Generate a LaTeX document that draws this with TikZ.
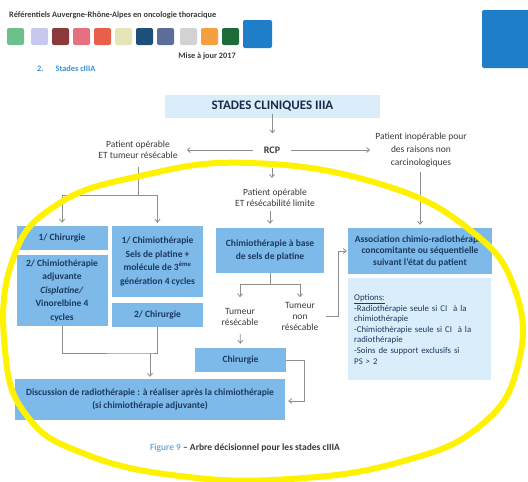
\documentclass[tikz,border=0pt]{standalone}
\usepackage{fontspec}
\setmainfont{Carlito}
\usetikzlibrary{arrows.meta,calc}
\tikzset {>={Straight Barb[length=3pt,width=5pt]}}

\definecolor{boxblue}{HTML}{7DBAE9}
\definecolor{optblue}{HTML}{D9EEFA}
\definecolor{titleblue}{HTML}{DCEDFA}
\definecolor{boxtext}{HTML}{1B3A5E}
\definecolor{textdark}{HTML}{3A3A3A}
\definecolor{linegray}{HTML}{8E8E8E}
\definecolor{capblue}{HTML}{3D8FD1}
\definecolor{marker}{HTML}{FFF200}
\definecolor{swA}{HTML}{6CC08B}
\definecolor{swB}{HTML}{C8C8EE}
\definecolor{swC}{HTML}{8B3A3A}
\definecolor{swD}{HTML}{E5707F}
\definecolor{swE}{HTML}{E8604A}
\definecolor{swF}{HTML}{E6E5B8}
\definecolor{swG}{HTML}{1C4F7A}
\definecolor{swH}{HTML}{5A6E98}
\definecolor{swI}{HTML}{D0D2D4}
\definecolor{swJ}{HTML}{F4A040}
\definecolor{swK}{HTML}{1E6B3A}
\definecolor{swL}{HTML}{1E7FC8}

\tikzset{
  box/.style={fill=boxblue,text=boxtext,font=\bfseries\fontsize{9.5}{13.5}\selectfont,
    align=center,inner sep=0pt},
  optbox/.style={fill=optblue,text=boxtext,font=\fontsize{8.8}{10.6}\selectfont,
    align=left,inner xsep=6pt,inner ysep=0pt,text width=131pt},
  plain/.style={text=textdark,font=\fontsize{9.5}{11}\selectfont,align=center,inner sep=1pt},
  link/.style={draw=linegray,line width=0.8pt},
  arr/.style={link,->},
  swatch/.style={rounded corners=2pt}
}

\begin{document}
\begin{tikzpicture}[x=1pt,y=-1pt]
\useasboundingbox (0,0) rectangle (528,482);

% Page header
\node[anchor=west,inner sep=0,text=textdark,font=\bfseries\fontsize{8.3}{9}\selectfont] (header) at (9,15)
  {Référentiels Auvergne-Rhône-Alpes en oncologie thoracique};
\foreach \x/\c in {7/swA,31/swB,52/swC,73/swD,94/swE,115/swF,136/swG,157/swH,180/swI,201/swJ,222/swK}
  \fill[\c,swatch] (\x,28) rectangle +(17,17);
\fill[swL,swatch] (243,20) rectangle (272,48);
\fill[swL,swatch] (482,10) rectangle (532,68);
\node[anchor=east,inner sep=0,text=textdark,font=\bfseries\fontsize{8.3}{9}\selectfont] (update) at (236,56)
  {Mise à jour 2017};
\node[anchor=west,inner sep=0,text=capblue,font=\bfseries\fontsize{8.3}{9}\selectfont] (section) at (37,69)
  {2.\hspace{12pt}Stades cIIIA};

% Title and first split
\fill[titleblue] (165,95) rectangle (380,118);
\node[inner sep=0,text=boxtext!80!black,font=\bfseries\fontsize{13}{14}\selectfont] (title) at (272.5,106.5)
  {STADES CLINIQUES IIIA};
\node[plain,font=\bfseries\fontsize{10}{11}\selectfont] (rcp) at (272,150) {RCP};
\node[plain] (operable) at (138,149.5) {Patient opérable\\ET tumeur résécable};
\node[plain,font=\fontsize{9.5}{13}\selectfont] (inoperable) at (421,150)
  {Patient inopérable pour\\des raisons non\\carcinologiques};
\node[plain] (limite) at (275,198) {Patient opérable\\ET résécabilité limite};

\draw[arr,shorten <=2pt,shorten >=12pt] (title.south) -- (title.south |- rcp.north);
\draw[arr,shorten <=10pt,shorten >=8pt] (rcp.west) -- (rcp.west -| operable.east);
\draw[arr,shorten <=10pt,shorten >=4pt] (rcp.east) -- (rcp.east -| inoperable.west);
\draw[arr,shorten <=13pt,shorten >=10pt] (rcp.south) -- (rcp.south |- limite.north);

% Left branch: operable patient
\node[box,minimum width=91pt,minimum height=24pt] (chirA) at (62,238) {1/ Chirurgie};
\node[box,minimum width=91pt,minimum height=71pt] (chimioAdj) at (62,290.5)
  {2/ Chimiothérapie\\adjuvante\\\textit{Cisplatine/}\\Vinorelbine 4\\cycles};
\node[box,minimum width=91pt,minimum height=71pt] (chimioA) at (157.5,261.5)
  {1/ Chimiothérapie\\Sels de platine +\\molécule de 3\textsuperscript{ème}\\génération 4 cycles};
\node[box,minimum width=91pt,minimum height=24pt] (chirB) at (157.5,315) {2/ Chirurgie};
\node[box,minimum width=270pt,minimum height=41pt] (discussion) at (150,399.5)
  {Discussion de radiothérapie : à réaliser après la chimiothérapie\\(si chimiothérapie adjuvante)};

\coordinate (splitA) at (138,195);
\draw[link,shorten <=7pt] (operable.south) -- (splitA);
\draw[arr,shorten >=3pt] (splitA) -| (chirA.north);
\draw[arr,shorten >=3pt] (splitA) -| (chimioA.north);
\coordinate (joinA) at (150,353);
\draw[link] (chimioAdj.south) |- (joinA) -| (chirB.south);
\draw[arr,shorten >=2pt] (joinA) -- (joinA |- discussion.north);

% Middle branch: limited resectability
\node[box,minimum width=108pt,minimum height=45pt] (platine) at (270,250.5)
  {Chimiothérapie à base\\de sels de platine};
\node[plain] (resecable) at (240,317) {Tumeur\\résécable};
\node[plain] (nonresecable) at (300,316.5) {Tumeur\\non\\résécable};
\node[box,minimum width=91pt,minimum height=24pt] (chirC) at (240.5,360) {Chirurgie};

\draw[arr,shorten <=3pt,shorten >=4pt] (limite.south -| platine.north) -- (platine.north);
\coordinate (splitB) at (270,284);
\draw[link] (platine.south) -- (splitB);
\draw[arr,shorten >=10pt] (splitB) -| (resecable.north);
\draw[arr,shorten >=4pt] (splitB) -| (nonresecable.north);
\draw[arr,shorten <=7pt,shorten >=4pt] (resecable.south) -- (chirC.north);
\coordinate (bendB) at (304,401);
\draw[arr,shorten >=3pt] (chirC.east) -| (bendB) -- (bendB -| discussion.east);

% Right branch: inoperable patient
\node[box,font=\bfseries\fontsize{9.5}{11.5}\selectfont,minimum width=144pt,minimum height=46pt] (assoc) at (420,251)
  {Association chimio-radiothérapie\\concomitante ou séquentielle\\suivant l'état du patient};
\node[optbox,anchor=north west,minimum height=102pt] (options) at (348,278)
  {\underline{Options:}\\-Radiothérapie seule si CI~ à la\\chimiothérapie\\-Chimiothérapie seule si CI~ à la\\radiothérapie\\-Soins de support exclusifs si\\PS > 2};

\draw[arr,shorten <=4pt,shorten >=3pt] (inoperable.south -| assoc.north) -- (assoc.north);
\coordinate (bendC) at (338,316.5);
\draw[arr,shorten <=6pt,shorten >=1pt] (nonresecable.east) -- (bendC) |- (assoc.west);

% Caption
\node[inner sep=0,text=textdark,font=\fontsize{9.5}{10}\selectfont] (caption) at (245,448)
  {\textcolor{capblue}{Figure 9} \textbf{-- Arbre décisionnel pour les stades cIIIA}};

% Yellow highlight, drawn by hand round the tree
\draw[marker,line width=6pt] plot[smooth cycle,tension=0.75] coordinates {
  (250,163) (380,184) (470,230) (515,290) (518,365) (480,426)
  (400,462) (290,479) (180,476) (85,454) (27,416) (5,350)
  (12,262) (55,206) (140,176)};
\end{tikzpicture}
\end{document}
